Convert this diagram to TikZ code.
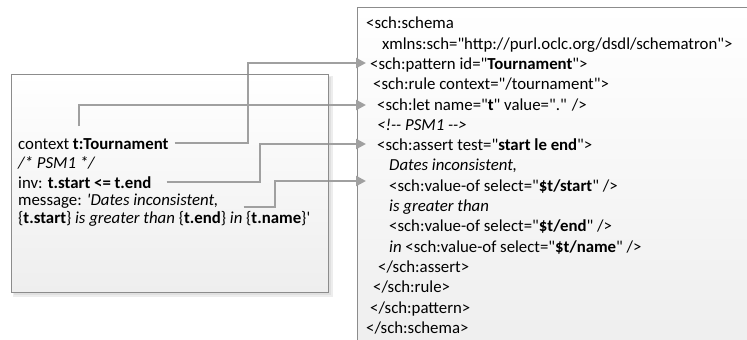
\documentclass[tikz,border=0pt]{standalone}
\usepackage{fontspec}
\setmainfont{Carlito}
\usetikzlibrary{arrows.meta}
\newcommand{\qdq}{\textquotedbl}
\definecolor{conncol}{RGB}{160,160,160}
\definecolor{boxline}{RGB}{140,140,140}
\definecolor{boxbot}{RGB}{238,238,238}
\tikzset{
  txt/.style={anchor=base west, inner sep=0pt, font=\fontsize{16.8}{19}\selectfont},
  conn/.style={draw=conncol, line width=2.4pt, -{Triangle[length=10pt,width=10pt]}},
}
\begin{document}
\begin{tikzpicture}[x=1pt,y=-1pt]
\useasboundingbox (0,0) rectangle (747,340);
% right box
\begin{scope}
\clip (0,0) rectangle (747,340);
\shade[top color=white, bottom color=boxbot] (357,7) rectangle (760,350);
\draw[boxline, line width=1pt] (357,350) -- (357,7) -- (760,7);
\end{scope}
% left box shadow and fill
\fill[black!7] (13,76) rectangle (333,297);
\fill[black!12] (14,77) rectangle (331,295);
\shade[top color=white, bottom color=boxbot] (11,74) rectangle (328,292);
% left texts
\node[txt] (ctx) at (18,149) {context \textbf{t:Tournament}};
\node[txt] (psm) at (18,168) {\textit{/* PSM1 */}};
\node[txt] (inv) at (18,188) {inv: \textbf{t.start <= t.end}};
\node[txt] (msg) at (18,205) {message: \textit{\textquotesingle Dates inconsistent,}};
\node[txt] (msgb) at (18,223) {\{\textbf{t.start}\} \textit{is greater than} \{\textbf{t.end}\} \textit{in} \{\textbf{t.name}\}\textquotesingle};
% right texts
\node[txt] (r1) at (366,28) {<sch:schema};
\node[txt] (r2) at (382,49) {xmlns:sch=\qdq http://purl.oclc.org/dsdl/schematron\qdq>};
\node[txt] (r3) at (370,69) {<sch:pattern id=\qdq\textbf{Tournament}\qdq>};
\node[txt] (r4) at (373,89) {<sch:rule context=\qdq/tournament\qdq>};
\node[txt] (r5) at (377,110) {<sch:let name=\qdq\textbf{t}\qdq{} value=\qdq.\qdq{} />};
\node[txt] (r6) at (377,130) {\textit{<!-{}- PSM1 -{}->}};
\node[txt] (r7) at (377,150) {<sch:assert test=\qdq\textbf{start le end}\qdq>};
\node[txt] (r8) at (389,170) {\textit{Dates inconsistent,}};
\node[txt] (r9) at (389,191) {<sch:value-of select=\qdq\textbf{\$t/start}\qdq{} />};
\node[txt] (r10) at (389,211) {\textit{is greater than}};
\node[txt] (r11) at (389,231) {<sch:value-of select=\qdq\textbf{\$t/end}\qdq{} />};
\node[txt] (r12) at (389,252) {\textit{in} <sch:value-of select=\qdq\textbf{\$t/name}\qdq{} />};
\node[txt] (r13) at (378,272) {</sch:assert>};
\node[txt] (r14) at (373,292) {</sch:rule>};
\node[txt] (r15) at (370,313) {</sch:pattern>};
\node[txt] (r16) at (366,333) {</sch:schema>};
% connector coordinates
\coordinate (s2) at (79,126);
\coordinate (t1) at (366,63);
\coordinate (t2) at (366,105);
\coordinate (t3) at (366,144);
\coordinate (t4) at (366,181);
% connectors
\draw[conn] ([xshift=6pt,yshift=6pt]ctx.base east) -| (248,63) -- (t1);
\draw[conn] (s2) |- (t2);
\draw[conn] ([xshift=15pt,yshift=6pt]inv.base east) -| (260,144) -- (t3);
\draw[conn] ([xshift=25pt,yshift=-2pt]msg.base east) -| (275,181) -- (t4);
% left box border on top
\draw[boxline, line width=0.9pt] (11,74) rectangle (328,292);
\end{tikzpicture}
\end{document}
